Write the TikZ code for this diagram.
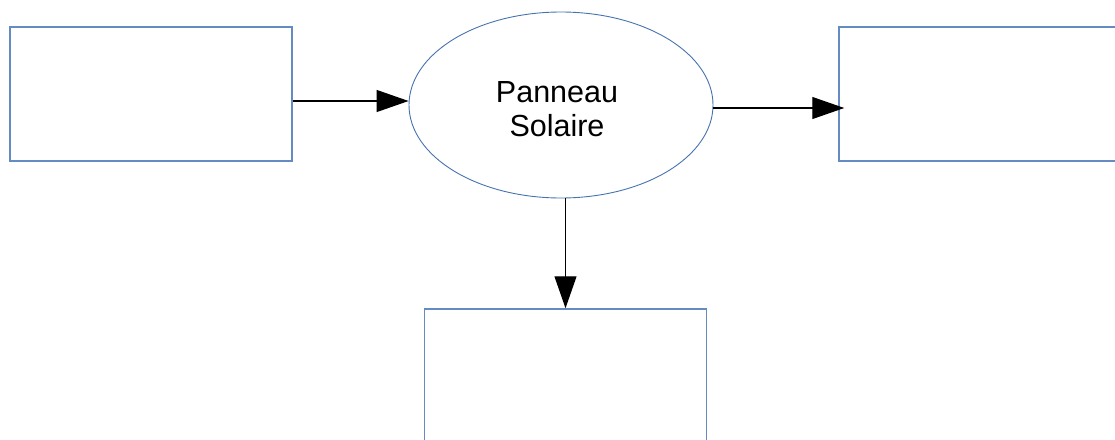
\documentclass[tikz,border=0pt]{standalone}
\usepackage{fontspec}
\setmainfont{Liberation Sans}
\usetikzlibrary{arrows.meta,shapes.geometric,calc}
\definecolor{boxblue}{RGB}{100,140,195}
\definecolor{ellblue}{RGB}{70,115,175}
\begin{document}
\begin{tikzpicture}[x=1pt,y=-1pt,
  blockbox/.style={draw=boxblue,line width=1.5pt,rectangle,inner sep=0pt,minimum width=282pt,minimum height=134pt},
  panel/.style={draw=ellblue,line width=0.9pt,ellipse,inner sep=0pt,minimum width=304pt,minimum height=186pt},
  paneltext/.style={font=\fontsize{30.5}{34}\selectfont,align=center,inner sep=0pt},
  link/.style={line width=1.2pt,-{Triangle[length=32pt,width=22pt]}}]
\useasboundingbox (0,0) rectangle (1115,439);
\clip (0,0) rectangle (1115,439);
\node[blockbox] (lbox) at (151,94) {};
\node[blockbox] (rbox) at (980,94) {};
\node[blockbox] (bbox) at (565.5,376) {};
\node[panel] (ell) at (561,105) {};
\node[paneltext] (ptext) at (557,109) {Panneau\\Solaire};
\draw[link] ([yshift=-7pt]lbox.east) -- ([yshift=4pt]ell.west);
\draw[link] ([yshift=-3pt]ell.east) -- ([xshift=6pt,yshift=-14pt]rbox.west);
\draw[link] (bbox.north |- ell.south) -- (bbox.north);
\end{tikzpicture}
\end{document}
